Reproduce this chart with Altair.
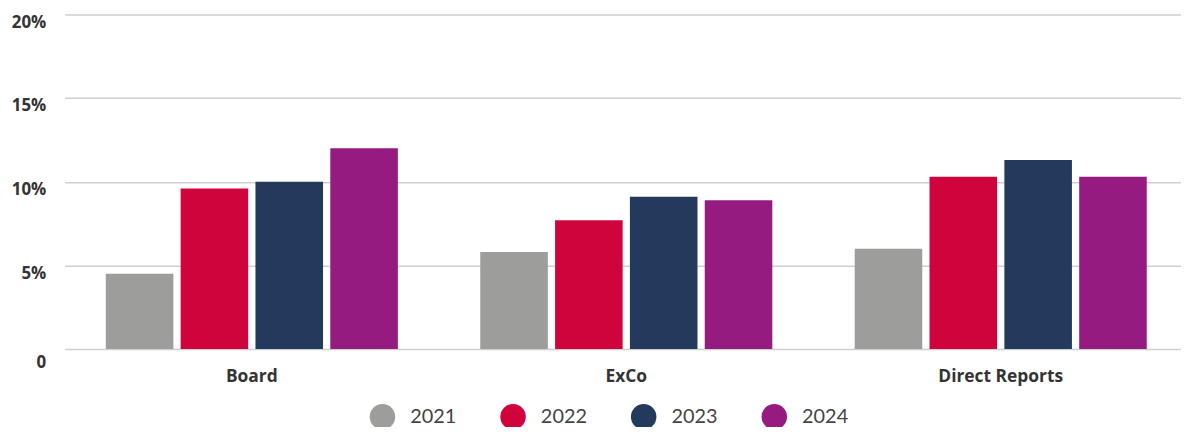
import altair as alt
import pandas as pd

categories = ["Board", "ExCo", "Direct Reports"]
years = ["2021", "2022", "2023", "2024"]
values_2021 = [4.5, 5.8, 6.0]
values_2022 = [9.6, 7.7, 10.3]
values_2023 = [10.0, 9.1, 11.3]
values_2024 = [12.0, 8.9, 10.3]
colors = ["#9d9d9c", "#d0043c", "#233a5c", "#951b81"]

rows = []
for yr, vals in zip(years, [values_2021, values_2022, values_2023, values_2024]):
    for cat, v in zip(categories, vals):
        rows.append({"category": cat, "year": yr, "value": v})
df = pd.DataFrame(rows)

chart = alt.Chart(df).mark_bar().encode(
    x=alt.X("category:N", sort=categories, title=None,
            scale=alt.Scale(range=[0, 1131], paddingInner=0.22, paddingOuter=0.11),
            axis=alt.Axis(labelAngle=0, domain=False, ticks=False, labelPadding=19,
                          labelFont="Open Sans", labelFontWeight="bold", labelFontSize=17.5,
                          labelColor="#333333")),
    xOffset=alt.XOffset("year:N", sort=years,
                        scale=alt.Scale(paddingInner=0.097, paddingOuter=0)),
    y=alt.Y("value:Q", title=None,
            scale=alt.Scale(domain=[0, 20], nice=False),
            axis=alt.Axis(values=[0, 5, 10, 15, 20], domain=False, ticks=False,
                          labelPadding=19, labelFont="Open Sans", labelFontWeight="bold",
                          labelFontSize=17, labelColor="#333333", labelBaseline="top",
                          labelOffset={"condition": {"test": "datum.value == 0", "value": 6}, "value": 0},
                          labelExpr="datum.value == 0 ? '0' : datum.value + '%'",
                          gridColor="#cfcfcf", gridWidth=1.5)),
    color=alt.Color("year:N", sort=years,
                    scale=alt.Scale(domain=years, range=colors),
                    legend=alt.Legend(title=None, orient="none", legendX=307, legendY=392,
                                      direction="horizontal", columns=4, symbolType="circle",
                                      symbolSize=660, symbolStrokeWidth=0, labelOffset=15,
                                      columnPadding=43.5, padding=0,
                                      labelFont="Lato", labelFontSize=20, labelColor="#444444")),
).properties(
    width=1124, height=337,
    autosize=alt.AutoSizeParams(type="none"),
    padding={"left": 57, "top": 5, "right": 0, "bottom": 77},
).configure_view(stroke=None)

chart.save("out.html", embed_options={"renderer": "svg", "actions": False})
